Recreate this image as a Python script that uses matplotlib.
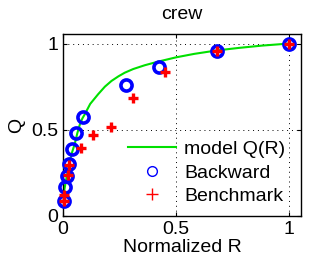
import matplotlib
matplotlib.use('Agg')
import matplotlib.pyplot as plt
from matplotlib.lines import Line2D

plt.rcParams['font.family'] = ['Liberation Sans', 'DejaVu Sans']

# --- data ---
model_r = [0.0, 0.004, 0.008, 0.015, 0.022, 0.03, 0.04, 0.052, 0.063, 0.074,
           0.085, 0.096, 0.12, 0.155, 0.185, 0.214, 0.245, 0.273, 0.31, 0.361,
           0.42, 0.5, 0.58, 0.68, 0.78, 0.88, 1.0]
model_q = [0.10, 0.14, 0.17, 0.22, 0.27, 0.32, 0.37, 0.42, 0.48, 0.53,
           0.565, 0.59, 0.65, 0.706, 0.75, 0.783, 0.81, 0.831, 0.852, 0.874,
           0.895, 0.92, 0.94, 0.96, 0.975, 0.988, 1.0]

backward_r = [0.006, 0.009, 0.016, 0.024, 0.038, 0.058, 0.09, 0.279, 0.423, 0.683, 1.0]
backward_q = [0.085, 0.17, 0.23, 0.30, 0.39, 0.48, 0.574, 0.758, 0.865, 0.958, 1.0]

bench_r = [0.006, 0.006, 0.021, 0.026, 0.08, 0.134, 0.211, 0.311, 0.45, 0.683, 1.0]
bench_q = [0.085, 0.124, 0.235, 0.295, 0.395, 0.467, 0.517, 0.682, 0.835, 0.955, 1.0]

ticks = [0, 0.5, 1]
tick_labels = ['0', '0.5', '1']

fig = plt.figure(figsize=(3.32, 2.66), dpi=100)
ax = fig.add_axes([0.19, 0.188, 0.717, 0.684])

ax.plot(model_r, model_q, color='#00e000', lw=1.5, zorder=2)
ax.plot(backward_r, backward_q, 'o', ms=8, mfc='none', mec='#0000ff', mew=2.6,
        zorder=3, clip_on=False)
ax.plot(bench_r, bench_q, '+', ms=7, mec='#ff0000', mew=2.4, zorder=4, clip_on=False)

ax.set_xlim(0, 1.053)
ax.set_ylim(0, 1.055)
ax.set_xticks(ticks)
ax.set_xticklabels(tick_labels)
ax.set_yticks(ticks)
ax.set_yticklabels(tick_labels)
ax.tick_params(direction='in', labelsize=14, length=3, width=0.8, top=True, right=True)
ax.grid(True, color='black', linestyle=(0, (1, 4)), linewidth=0.7)
for s in ax.spines.values():
    s.set_linewidth(1.0)

ax.set_xlabel('Normalized R', fontsize=14, labelpad=1)
ax.set_ylabel('Q', fontsize=14, labelpad=4)
ax.set_title('crew', fontsize=14, pad=11)

handles = [
    Line2D([], [], color='#00e000', lw=1.5),
    Line2D([], [], ls='none', marker='o', ms=7, mfc='none', mec='#0000ff', mew=1),
    Line2D([], [], ls='none', marker='+', ms=9, mec='#ff0000', mew=1),
]
ax.legend(handles, ['model Q(R)', 'Backward', 'Benchmark'], loc='lower right',
          frameon=False, fontsize=14, handlelength=2.5, handletextpad=0.4,
          labelspacing=0.3, borderaxespad=0.3, bbox_to_anchor=(0.99, -0.015))

fig.savefig('out.png', dpi=100)
